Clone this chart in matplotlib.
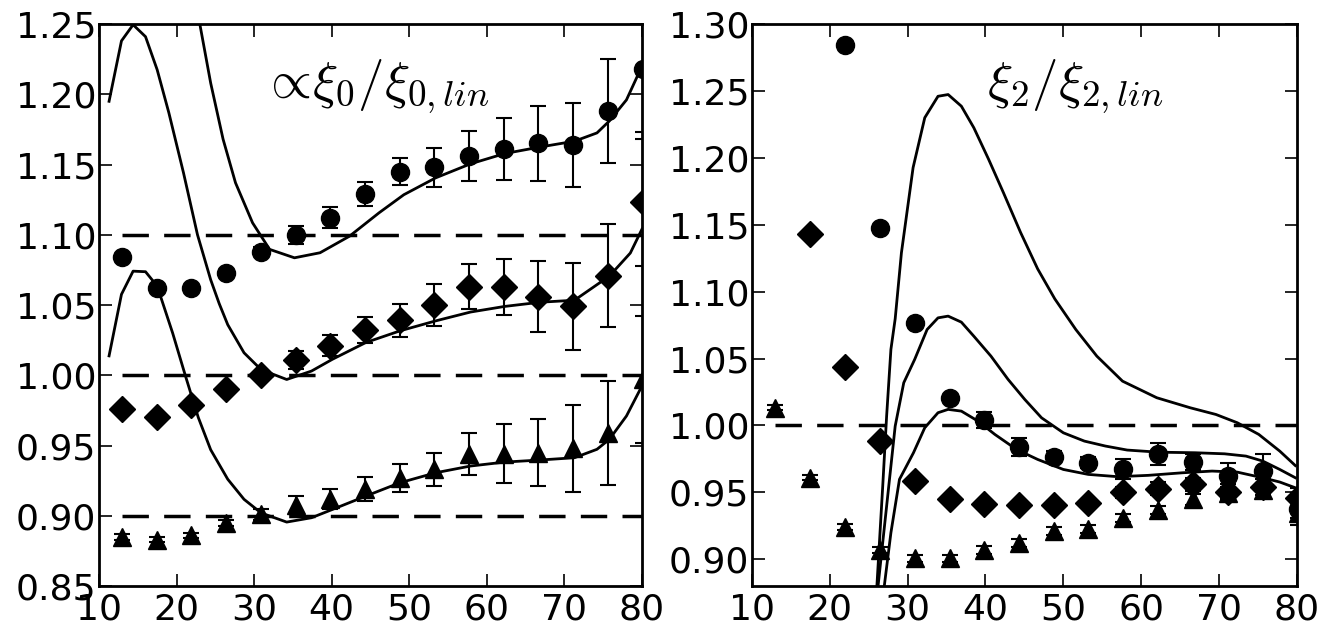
import numpy as np
import matplotlib
matplotlib.use('Agg')
import matplotlib.pyplot as plt

# separation bins (Mpc/h), shared by both panels
r = [13.0, 17.5, 21.9, 26.4, 30.9, 35.4, 39.8, 44.3, 48.8, 53.2, 57.7, 62.2, 66.6, 71.1, 75.6, 80.1]

# monopole ratio, three samples offset by 0.1
xi0_circ = [1.084, 1.062, 1.062, 1.073, 1.088, 1.0995, 1.112, 1.129, 1.145, 1.148, 1.156, 1.161, 1.165, 1.164, 1.188, 1.218]
xi0_circ_err = [0.002, 0.002, 0.002, 0.002, 0.003, 0.0064, 0.0075, 0.0087, 0.0097, 0.014, 0.018, 0.022, 0.027, 0.030, 0.037, 0.045]
xi0_diam = [0.976, 0.970, 0.979, 0.990, 1.000, 1.011, 1.021, 1.032, 1.039, 1.050, 1.063, 1.063, 1.056, 1.049, 1.071, 1.123]
xi0_diam_err = [0.002, 0.002, 0.002, 0.002, 0.002, 0.0063, 0.0074, 0.0093, 0.0115, 0.0148, 0.016, 0.020, 0.025, 0.031, 0.037, 0.045]
xi0_tri = [0.885, 0.883, 0.886, 0.895, 0.901, 0.908, 0.912, 0.919, 0.927, 0.933, 0.944, 0.944, 0.945, 0.948, 0.959, 0.997]
xi0_tri_err = [0.002, 0.002, 0.002, 0.002, 0.004, 0.006, 0.007, 0.0083, 0.010, 0.012, 0.015, 0.021, 0.024, 0.031, 0.037, 0.045]

# model curves for the monopole
m0_top_r = [23.0, 24.4, 26.0, 27.6, 29.8, 32.0, 35.2, 38.5, 42.3, 46.1, 49.3, 53.4, 57.9, 62.3, 66.9, 71.3, 74.2, 75.8, 78.0, 80.0]
m0_top = [1.250, 1.208, 1.168, 1.137, 1.1085, 1.0896, 1.0836, 1.0872, 1.099, 1.1156, 1.1285, 1.1405, 1.1505, 1.1578, 1.1625, 1.1666, 1.1725, 1.181, 1.196, 1.220]
m0_mid_r = [11.3, 12.9, 14.4, 16.0, 17.5, 19.0, 20.9, 22.7, 24.4, 25.5, 26.6, 28.7, 30.9, 34.2, 37.4, 40.1, 44.4, 48.8, 53.4, 57.9, 62.3, 66.9, 71.3, 75.8, 78.5, 80.0]
m0_mid = [1.195, 1.238, 1.2495, 1.241, 1.2175, 1.187, 1.144, 1.100, 1.068, 1.051, 1.036, 1.016, 1.004, 0.997, 1.003, 1.0114, 1.0233, 1.0316, 1.0387, 1.045, 1.049, 1.052, 1.0534, 1.0706, 1.087, 1.104]
m0_low_r = [11.3, 12.9, 14.4, 16.0, 17.5, 19.5, 21.15, 22.8, 24.4, 26.6, 28.7, 30.9, 34.2, 37.4, 40.1, 44.4, 48.8, 53.4, 57.9, 62.3, 66.9, 71.3, 74.2, 75.8, 78.0, 80.0]
m0_low = [1.0138, 1.0576, 1.0741, 1.0737, 1.0635, 1.030, 0.9995, 0.9700, 0.947, 0.926, 0.9117, 0.902, 0.8955, 0.8986, 0.9045, 0.914, 0.9235, 0.9306, 0.9354, 0.9382, 0.9397, 0.9413, 0.9473, 0.9544, 0.971, 0.9924]

# quadrupole ratio; points above the frame are left out
xi2_circ = [1.2846, 1.1475, 1.0762, 1.0207, 1.004, 0.9838, 0.9766, 0.9721, 0.9671, 0.9788, 0.9729, 0.9622, 0.9659, 0.9373]
xi2_circ_err = [0.002, 0.002, 0.002, 0.002, 0.006, 0.007, 0.004, 0.004, 0.0075, 0.008, 0.006, 0.010, 0.0125, 0.012]
xi2_diam = [1.143, 1.0436, 0.9883, 0.9584, 0.9447, 0.941, 0.9402, 0.9402, 0.9417, 0.950, 0.9527, 0.9559, 0.950, 0.9542, 0.946]
xi2_diam_err = [0.002, 0.002, 0.002, 0.002, 0.002, 0.002, 0.002, 0.003, 0.003, 0.004, 0.005, 0.005, 0.006, 0.006, 0.007]
xi2_tri = [1.0132, 0.961, 0.924, 0.9069, 0.9006, 0.9006, 0.9069, 0.9124, 0.921, 0.9228, 0.9305, 0.9368, 0.9447, 0.9497, 0.9517, 0.9348]
xi2_tri_err = [0.002, 0.002, 0.0025, 0.0025, 0.0025, 0.0025, 0.003, 0.003, 0.003, 0.003, 0.003, 0.003, 0.004, 0.004, 0.004, 0.004]

m2_top_r = [26.05, 26.8, 27.3, 27.85, 28.4, 29.2, 30.7, 32.2, 33.9, 35.2, 36.9, 38.5, 40.4, 42.3, 44.5, 46.7, 48.9, 51.6, 54.3, 57.6, 62.0, 66.3, 69.6, 72.35, 75.1, 77.8, 79.8]
m2_top = [0.880, 0.9547, 1.007, 1.0568, 1.0797, 1.129, 1.1927, 1.230, 1.246, 1.2473, 1.2386, 1.2225, 1.1989, 1.174, 1.1443, 1.117, 1.0946, 1.0717, 1.0518, 1.0331, 1.0207, 1.0132, 1.0082, 1.002, 0.9933, 0.9808, 0.970]
m2_mid_r = [26.2, 27.3, 28.4, 29.5, 30.9, 32.5, 33.9, 35.2, 36.9, 38.5, 40.7, 42.9, 45.05, 47.2, 50.0, 52.7, 55.4, 58.2, 62.25, 66.9, 70.7, 73.45, 75.6, 77.8, 79.8]
m2_mid = [0.880, 0.9397, 0.9995, 1.0319, 1.0493, 1.0717, 1.0804, 1.0817, 1.0772, 1.0667, 1.0518, 1.0344, 1.0194, 1.0057, 0.9945, 0.9883, 0.9846, 0.9816, 0.980, 0.9796, 0.9788, 0.9771, 0.9734, 0.9671, 0.9609]
m2_low_r = [27.0, 27.85, 28.95, 30.75, 32.2, 33.9, 35.2, 36.9, 39.05, 41.2, 44.0, 46.7, 50.0, 53.2, 57.0, 60.9, 65.25, 69.1, 72.35, 75.6, 77.8, 79.8]
m2_low = [0.880, 0.9198, 0.9597, 0.9796, 0.9983, 1.0095, 1.012, 1.0107, 1.0032, 0.9933, 0.982, 0.9746, 0.9671, 0.9634, 0.9617, 0.9627, 0.9646, 0.9659, 0.9651, 0.9609, 0.9577, 0.9534]

plt.rcParams['mathtext.fontset'] = 'cm'
plt.rcParams['lines.scale_dashes'] = False
plt.rcParams['font.size'] = 26


def points(ax, x, y, err, marker):
    ax.errorbar(x, y, yerr=err, fmt=marker, color='k', ms=13, elinewidth=1.5,
                capsize=6, capthick=1.5)


def style(ax, ylim, yticks):
    ax.set_xlim(10, 80)
    ax.set_ylim(*ylim)
    ax.set_xticks(range(10, 81, 10))
    ax.set_yticks(yticks)
    ax.yaxis.set_major_formatter(matplotlib.ticker.FormatStrFormatter('%.2f'))
    ax.tick_params(direction='in', length=9, width=1.2, top=True, right=True, labelsize=26)
    ax.tick_params(axis='y', pad=2)
    ax.tick_params(axis='x', pad=4.5)
    for s in ax.spines.values():
        s.set_linewidth(2)


def main():
    fig = plt.figure(figsize=(13.25, 6.34), dpi=100)
    ax1 = fig.add_axes([0.0747, 0.0757, 0.4098, 0.8864])
    ax2 = fig.add_axes([0.5675, 0.0757, 0.4113, 0.8864])

    for level in (0.9, 1.0, 1.1):
        ax1.plot(r, [level] * len(r), 'k', lw=2.5, ls=(0, (19, 11)))
    ax1.plot(m0_top_r, m0_top, 'k-', lw=2)
    ax1.plot(m0_mid_r, m0_mid, 'k-', lw=2)
    ax1.plot(m0_low_r, m0_low, 'k-', lw=2)
    points(ax1, r, xi0_circ, xi0_circ_err, 'o')
    points(ax1, r, xi0_diam, xi0_diam_err, 'D')
    points(ax1, r, xi0_tri, xi0_tri_err, '^')
    ax1.text(0.508, 0.868, r'$\propto\!\xi_0/\xi_{0,lin}$', transform=ax1.transAxes,
             ha='center', va='baseline', fontsize=38)
    style(ax1, (0.85, 1.25), np.arange(0.85, 1.2501, 0.05))

    ax2.plot(r, [1.0] * len(r), 'k', lw=2.5, ls=(0, (19, 11)))
    ax2.plot(m2_top_r, m2_top, 'k-', lw=2)
    ax2.plot(m2_mid_r, m2_mid, 'k-', lw=2)
    ax2.plot(m2_low_r, m2_low, 'k-', lw=2)
    points(ax2, r[2:], xi2_circ, xi2_circ_err, 'o')
    points(ax2, r[1:], xi2_diam, xi2_diam_err, 'D')
    points(ax2, r, xi2_tri, xi2_tri_err, '^')
    ax2.text(0.594, 0.868, r'$\xi_2/\xi_{2,lin}$', transform=ax2.transAxes,
             ha='center', va='baseline', fontsize=38)
    style(ax2, (0.88, 1.30), np.arange(0.90, 1.3001, 0.05))

    fig.savefig('out.png', dpi=100)


if __name__ == '__main__':
    main()
